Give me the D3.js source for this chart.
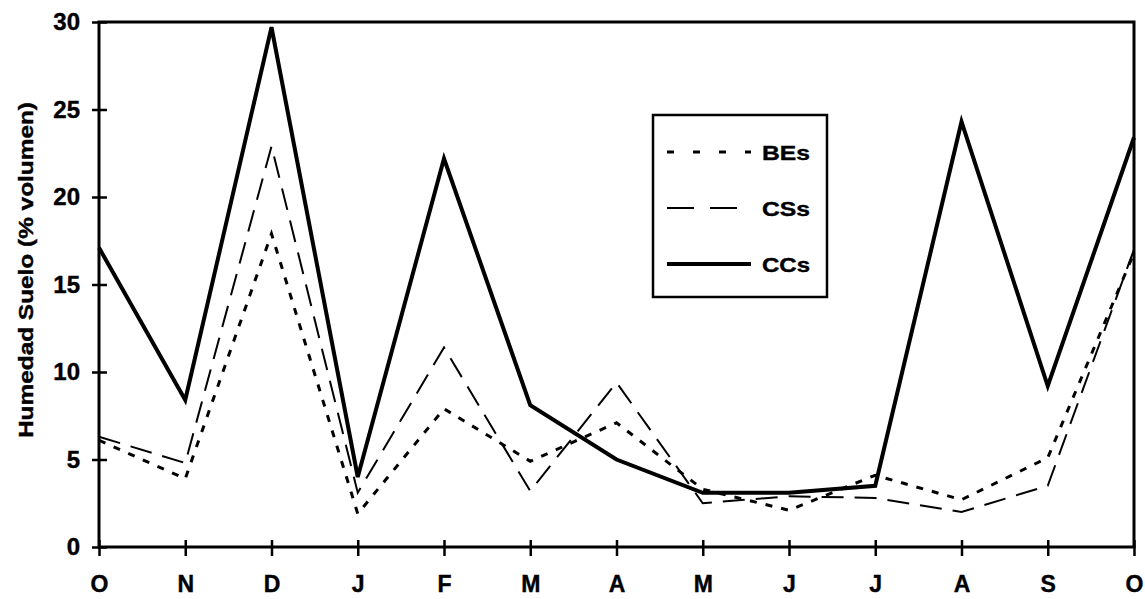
<!DOCTYPE html>
<html>
<head>
<meta charset="utf-8">
<script src="https://cdn.jsdelivr.net/npm/d3@7"></script>
<style>
  body { margin: 0; background: #fff; }
  text { font-family: "Liberation Sans", Arial, sans-serif; font-weight: bold; fill: #000; stroke: #000; stroke-width: 0.4px; }
</style>
</head>
<body>
<div id="chart"></div>
<script>
// Months (Oct to Oct)
const months = ["O", "N", "D", "J", "F", "M", "A", "M", "J", "J", "A", "S", "O"];
const yTicks = [0, 5, 10, 15, 20, 25, 30];

// Soil moisture series (% volume)
const bes = [6.1, 3.9, 17.9, 1.9, 7.9, 4.9, 7.1, 3.3, 2.1, 4.1, 2.7, 5.1, 16.8];
const css = [6.3, 4.8, 22.9, 3.1, 11.4, 3.2, 9.4, 2.5, 2.9, 2.8, 2.0, 3.5, 17.0];
const ccs = [17.1, 8.4, 29.7, 4.0, 22.2, 8.1, 5.0, 3.1, 3.1, 3.5, 24.3, 9.2, 23.4];

const seriesList = [
  { name: "BEs", values: bes, dash: "7,9", legendDash: "7,19", width: 3 },
  { name: "CSs", values: css, dash: "22,11", legendDash: "27,16", width: 2 },
  { name: "CCs", values: ccs, dash: null, legendDash: null, width: 4 }
];

const W = 1145, H = 599;
const margin = { top: 22, right: 11, bottom: 52, left: 99 };
const width = W - margin.left - margin.right;
const height = H - margin.top - margin.bottom;

const svg = d3.select("#chart").append("svg")
  .attr("width", W)
  .attr("height", H);

const g = svg.append("g")
  .attr("transform", `translate(${margin.left},${margin.top})`);

// Scales
const x = d3.scalePoint()
  .domain(d3.range(months.length))
  .range([0, width]);

const y = d3.scaleLinear()
  .domain([0, 30])
  .range([height, 0]);

// Frame
g.append("rect")
  .attr("x", 0).attr("y", 0)
  .attr("width", width).attr("height", height)
  .attr("fill", "none")
  .attr("stroke", "#000")
  .attr("stroke-width", 3);

// Y axis with crossing ticks
const yAxis = g.append("g")
  .call(d3.axisLeft(y).tickValues(yTicks).tickSize(0).tickPadding(19));
yAxis.select(".domain").remove();
yAxis.selectAll(".tick text").style("font-size", "24px");
yAxis.selectAll(".tick").append("line")
  .attr("x1", -7).attr("x2", 8)
  .attr("stroke", "#000").attr("stroke-width", 2.5);

// X axis with crossing ticks
const xAxis = g.append("g")
  .attr("transform", `translate(0,${height})`)
  .call(d3.axisBottom(x).tickFormat(i => months[i]).tickSize(0).tickPadding(29));
xAxis.select(".domain").remove();
xAxis.selectAll(".tick text").style("font-size", "23px");
xAxis.selectAll(".tick").append("line")
  .attr("y1", -7).attr("y2", 9)
  .attr("stroke", "#000").attr("stroke-width", 2.5);

// Y axis label
svg.append("text")
  .attr("transform", "translate(33,270) rotate(-90)")
  .attr("text-anchor", "middle")
  .attr("textLength", 336)
  .attr("lengthAdjust", "spacingAndGlyphs")
  .style("font-size", "21px")
  .text("Humedad Suelo (% volumen)");

// Lines
const line = d3.line()
  .x((d, i) => x(i))
  .y(d => y(d));

seriesList.forEach(s => {
  g.append("path")
    .datum(s.values)
    .attr("fill", "none")
    .attr("stroke", "#000")
    .attr("stroke-width", s.width)
    .attr("stroke-linejoin", "miter")
    .attr("stroke-dasharray", s.dash)
    .attr("d", line);
});

// Legend
const legend = svg.append("g").attr("transform", "translate(653,115)");
legend.append("rect")
  .attr("width", 174).attr("height", 182)
  .attr("fill", "#fff")
  .attr("stroke", "#000")
  .attr("stroke-width", 2.5);

seriesList.forEach((s, i) => {
  const ly = 37 + i * 56;
  legend.append("line")
    .attr("x1", 14).attr("x2", 98)
    .attr("y1", ly).attr("y2", ly)
    .attr("stroke", "#000")
    .attr("stroke-width", s.width)
    .attr("stroke-dasharray", s.legendDash);
  legend.append("text")
    .attr("x", 109).attr("y", ly + 8)
    .attr("textLength", 48)
    .attr("lengthAdjust", "spacingAndGlyphs")
    .style("font-size", "21px")
    .text(s.name);
});
</script>
</body>
</html>
